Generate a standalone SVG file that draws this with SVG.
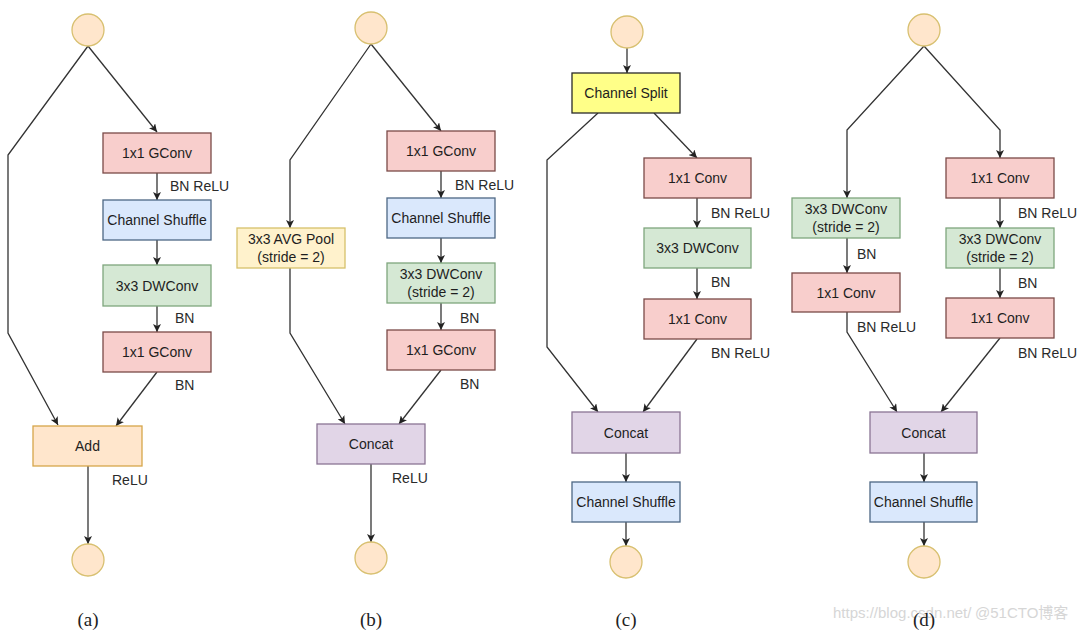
<svg xmlns="http://www.w3.org/2000/svg" width="1084" height="631" viewBox="0 0 1084 631">
<style>
.box{stroke-width:1.3}
.red{fill:#f8cecc;stroke:#7a4a48}
.blue{fill:#dae8fc;stroke:#4d6784}
.green{fill:#d5e8d4;stroke:#7fa67d}
.purple{fill:#e1d5e7;stroke:#8a7594}
.orange{fill:#ffe6cc;stroke:#d6a64a}
.lyellow{fill:#fff2cc;stroke:#d6c06b}
.split{fill:#ffff88;stroke:#2a2a2a}
.io{fill:#ffe6cc;stroke:#d8c070;stroke-width:1.3}
.t{font-family:"Liberation Sans",Arial,sans-serif;font-size:14px;fill:#1e1e1e;text-anchor:middle;dominant-baseline:central}
.lbl{font-family:"Liberation Sans",Arial,sans-serif;font-size:14px;fill:#2a2a2a;dominant-baseline:central}
.cap{font-family:"Liberation Serif","Times New Roman",serif;font-size:19px;fill:#222;text-anchor:middle}
.wm{font-family:"Liberation Sans",Arial,"Noto Sans CJK SC",sans-serif;font-size:15px;fill:#d6d6d6}
.c path{fill:none;stroke:#333;stroke-width:1.3}
</style>
<defs>
<marker id="ar" viewBox="0 0 10 10" refX="10" refY="5" markerWidth="8" markerHeight="8" markerUnits="userSpaceOnUse" orient="auto">
<path d="M0,0 L10,5 L0,10 L2.5,5 z" fill="#222"/>
</marker>
</defs>
<rect width="1084" height="631" fill="#ffffff"/>

<g class="c" id="connectors">
<!-- (a) -->
<path d="M88,46 L8,155 L8,333 L58,425" marker-end="url(#ar)"/>
<path d="M88,46 L157,132" marker-end="url(#ar)"/>
<path d="M157,173 L157,200" marker-end="url(#ar)"/>
<path d="M157,240 L157,265" marker-end="url(#ar)"/>
<path d="M157,306 L157,332" marker-end="url(#ar)"/>
<path d="M157,372 L116,426" marker-end="url(#ar)"/>
<path d="M88,466 L88,544" marker-end="url(#ar)"/>
<!-- (b) -->
<path d="M371,44 L290,160 L290,228" marker-end="url(#ar)"/>
<path d="M371,44 L441,131" marker-end="url(#ar)"/>
<path d="M441,171 L441,198" marker-end="url(#ar)"/>
<path d="M441,238 L441,263" marker-end="url(#ar)"/>
<path d="M441,303 L441,330" marker-end="url(#ar)"/>
<path d="M290,268 L290,333 L345,424" marker-end="url(#ar)"/>
<path d="M441,370 L399,424" marker-end="url(#ar)"/>
<path d="M371,464 L371,542" marker-end="url(#ar)"/>
<!-- (c) -->
<path d="M627,48 L627,73" marker-end="url(#ar)"/>
<path d="M598,113 L547,160 L547,347 L598,412" marker-end="url(#ar)"/>
<path d="M654,113 L697,158" marker-end="url(#ar)"/>
<path d="M697,198 L697,228" marker-end="url(#ar)"/>
<path d="M697,268 L697,299" marker-end="url(#ar)"/>
<path d="M697,339 L643,412" marker-end="url(#ar)"/>
<path d="M626,453 L626,482" marker-end="url(#ar)"/>
<path d="M626,522 L626,546" marker-end="url(#ar)"/>
<!-- (d) -->
<path d="M924,46 L847,130 L847,198" marker-end="url(#ar)"/>
<path d="M847,238 L847,273" marker-end="url(#ar)"/>
<path d="M847,312 L847,332 L897,412" marker-end="url(#ar)"/>
<path d="M924,46 L1000,130 L1000,158" marker-end="url(#ar)"/>
<path d="M1000,198 L1000,228" marker-end="url(#ar)"/>
<path d="M1000,268 L1000,298" marker-end="url(#ar)"/>
<path d="M1000,338 L941,412" marker-end="url(#ar)"/>
<path d="M924,453 L924,482" marker-end="url(#ar)"/>
<path d="M924,522 L924,546" marker-end="url(#ar)"/>
</g>

<g id="labels">
<text class="lbl" x="170" y="186">BN ReLU</text>
<text class="lbl" x="175" y="318">BN</text>
<text class="lbl" x="175" y="385">BN</text>
<text class="lbl" x="112" y="480">ReLU</text>
<text class="lbl" x="455" y="185">BN ReLU</text>
<text class="lbl" x="460" y="318">BN</text>
<text class="lbl" x="460" y="384">BN</text>
<text class="lbl" x="392" y="478">ReLU</text>
<text class="lbl" x="711" y="213">BN ReLU</text>
<text class="lbl" x="711" y="282">BN</text>
<text class="lbl" x="711" y="353">BN ReLU</text>
<text class="lbl" x="857" y="254">BN</text>
<text class="lbl" x="857" y="327">BN ReLU</text>
<text class="lbl" x="1018" y="213">BN ReLU</text>
<text class="lbl" x="1018" y="283">BN</text>
<text class="lbl" x="1018" y="353">BN ReLU</text>
</g>

<!-- (a) nodes -->
<g id="a-in"><circle class="io" cx="88" cy="30" r="16"/></g>
<g id="a-gconv1"><rect class="box red" x="103" y="133" width="108" height="40"/><text class="t" x="157" y="153">1x1 GConv</text></g>
<g id="a-shuffle"><rect class="box blue" x="103" y="200" width="108" height="40"/><text class="t" x="157" y="220">Channel Shuffle</text></g>
<g id="a-dwconv"><rect class="box green" x="103" y="265" width="108" height="41"/><text class="t" x="157" y="285.5">3x3 DWConv</text></g>
<g id="a-gconv2"><rect class="box red" x="103" y="332" width="108" height="40"/><text class="t" x="157" y="352">1x1 GConv</text></g>
<g id="a-add"><rect class="box orange" x="33" y="426" width="109" height="40"/><text class="t" x="87.5" y="446">Add</text></g>
<g id="a-out"><circle class="io" cx="88" cy="560" r="16"/></g>

<!-- (b) nodes -->
<g id="b-in"><circle class="io" cx="371" cy="28" r="16"/></g>
<g id="b-gconv1"><rect class="box red" x="387" y="131" width="108" height="40"/><text class="t" x="441" y="151">1x1 GConv</text></g>
<g id="b-shuffle"><rect class="box blue" x="387" y="198" width="108" height="40"/><text class="t" x="441" y="218">Channel Shuffle</text></g>
<g id="b-dwconv"><rect class="box green" x="387" y="263" width="108" height="40"/><text class="t" x="441" y="274">3x3 DWConv</text><text class="t" x="441" y="292">(stride = 2)</text></g>
<g id="b-gconv2"><rect class="box red" x="387" y="330" width="108" height="40"/><text class="t" x="441" y="350">1x1 GConv</text></g>
<g id="b-pool"><rect class="box lyellow" x="237" y="228" width="108" height="40"/><text class="t" x="291" y="239">3x3 AVG Pool</text><text class="t" x="291" y="257">(stride = 2)</text></g>
<g id="b-concat"><rect class="box purple" x="317" y="424" width="108" height="40"/><text class="t" x="371" y="444">Concat</text></g>
<g id="b-out"><circle class="io" cx="371" cy="558" r="16"/></g>

<!-- (c) nodes -->
<g id="c-in"><circle class="io" cx="627" cy="32" r="16"/></g>
<g id="c-split"><rect class="box split" x="572" y="73" width="108" height="40"/><text class="t" x="626" y="93">Channel Split</text></g>
<g id="c-conv1"><rect class="box red" x="644" y="158" width="107" height="40"/><text class="t" x="697.5" y="178">1x1 Conv</text></g>
<g id="c-dwconv"><rect class="box green" x="644" y="228" width="107" height="40"/><text class="t" x="697.5" y="248">3x3 DWConv</text></g>
<g id="c-conv2"><rect class="box red" x="644" y="299" width="107" height="40"/><text class="t" x="697.5" y="319">1x1 Conv</text></g>
<g id="c-concat"><rect class="box purple" x="572" y="412" width="108" height="41"/><text class="t" x="626" y="432.5">Concat</text></g>
<g id="c-shuffle"><rect class="box blue" x="572" y="482" width="108" height="40"/><text class="t" x="626" y="502">Channel Shuffle</text></g>
<g id="c-out"><circle class="io" cx="626" cy="562" r="16"/></g>

<!-- (d) nodes -->
<g id="d-in"><circle class="io" cx="924" cy="30" r="16"/></g>
<g id="d-ldwconv"><rect class="box green" x="792" y="198" width="108" height="40"/><text class="t" x="846" y="209">3x3 DWConv</text><text class="t" x="846" y="227">(stride = 2)</text></g>
<g id="d-lconv"><rect class="box red" x="792" y="273" width="108" height="39"/><text class="t" x="846" y="292.5">1x1 Conv</text></g>
<g id="d-rconv1"><rect class="box red" x="946" y="158" width="108" height="40"/><text class="t" x="1000" y="178">1x1 Conv</text></g>
<g id="d-rdwconv"><rect class="box green" x="946" y="228" width="108" height="40"/><text class="t" x="1000" y="239">3x3 DWConv</text><text class="t" x="1000" y="257">(stride = 2)</text></g>
<g id="d-rconv2"><rect class="box red" x="946" y="298" width="108" height="40"/><text class="t" x="1000" y="318">1x1 Conv</text></g>
<g id="d-concat"><rect class="box purple" x="870" y="412" width="107" height="41"/><text class="t" x="923.5" y="432.5">Concat</text></g>
<g id="d-shuffle"><rect class="box blue" x="870" y="482" width="107" height="40"/><text class="t" x="923.5" y="502">Channel Shuffle</text></g>
<g id="d-out"><circle class="io" cx="924" cy="562" r="16"/></g>

<g id="watermark">
<text class="wm" x="833" y="618">https://blog.csdn.net/</text>
<text class="wm" x="975" y="618">@51CTO博客</text>
</g>

<g id="captions">
<text class="cap" x="88" y="626">(a)</text>
<text class="cap" x="371" y="626">(b)</text>
<text class="cap" x="626" y="626">(c)</text>
<text class="cap" x="924" y="626">(d)</text>
</g>
</svg>
